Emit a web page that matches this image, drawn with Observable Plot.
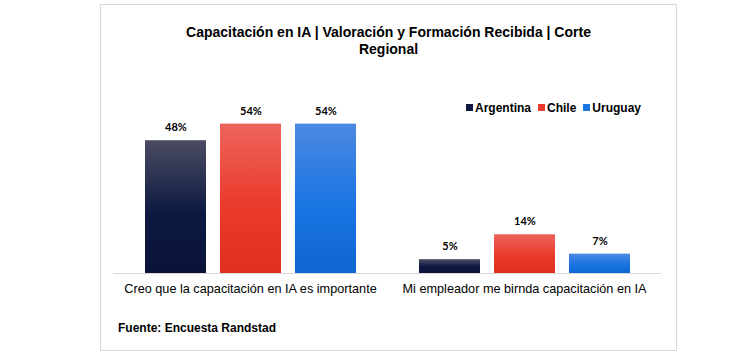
<!DOCTYPE html>
<html>
<head>
<meta charset="utf-8">
<script src="https://cdn.jsdelivr.net/npm/d3@7"></script>
<script src="https://cdn.jsdelivr.net/npm/@observablehq/plot@0.6"></script>
<style>
  body { margin: 0; background: #fff; font-family: "Liberation Sans", Arial, sans-serif; }
  #wrap { position: relative; width: 746px; height: 360px; overflow: hidden; }
  #box { position: absolute; left: 100px; top: 4px; width: 577px; height: 347px; border: 1px solid #d9d9d9; box-sizing: border-box; }
  #title { position: absolute; left: 101px; width: 575px; top: 24px; text-align: center; font-weight: bold; font-size: 14px; line-height: 17px; color: #000; }
  #legend { position: absolute; left: 466px; top: 101px; font-weight: bold; font-size: 12px; color: #000; white-space: nowrap; }
  #legend span.sw { display: inline-block; width: 7px; height: 7px; margin-right: 2px; vertical-align: 1px; }
  #legend span.item { margin-right: 7px; }
  #footer { position: absolute; left: 118px; top: 321px; font-weight: bold; font-size: 12px; color: #000; }
  #chart { position: absolute; left: 0; top: 60px; }
</style>
</head>
<body>
<div id="wrap">
  <div id="box"></div>
  <div id="chart"></div>
  <div id="title">Capacitación en IA | Valoración y Formación Recibida | Corte<br>Regional</div>
  <div id="legend"></div>
  <div id="footer">Fuente: Encuesta Randstad</div>
</div>
<script>
const categories = ["Creo que la capacitación en IA es importante", "Mi empleador me birnda capacitación en IA"];
const series = ["Argentina", "Chile", "Uruguay"];
const argentina = [48, 5];
const chile = [54, 14];
const uruguay = [54, 7];
const valueLabels = [["48%", "5%"], ["54%", "14%"], ["54%", "7%"]];
const colors = {
  Argentina: ["#4b4c63", "#0d1942", "#0a1238"],
  Chile: ["#ed645b", "#ea3a2c", "#df2f20"],
  Uruguay: ["#4c89e2", "#1a74e2", "#0e66d0"]
};

const values = [argentina, chile, uruguay];
const data = [];
series.forEach((s, si) => categories.forEach((c, ci) => {
  data.push({category: c, country: s, value: values[si][ci], label: valueLabels[si][ci]});
}));

const gradId = s => "grad-" + s;

function defsMark() {
  const ns = "http://www.w3.org/2000/svg";
  const defs = document.createElementNS(ns, "defs");
  for (const s of series) {
    const g = document.createElementNS(ns, "linearGradient");
    g.setAttribute("id", gradId(s));
    g.setAttribute("x1", "0"); g.setAttribute("y1", "0");
    g.setAttribute("x2", "0"); g.setAttribute("y2", "1");
    const stops = [[0, colors[s][0]], [0.55, colors[s][1]], [1, colors[s][2]]];
    for (const [o, c] of stops) {
      const st = document.createElementNS(ns, "stop");
      st.setAttribute("offset", o);
      st.setAttribute("stop-color", c);
      g.appendChild(st);
    }
    defs.appendChild(g);
  }
  return defs;
}

const chart = Plot.plot({
  width: 746,
  height: 250,
  marginLeft: 112,
  marginRight: 85,
  marginTop: 47,
  marginBottom: 37,
  style: {background: "transparent", fontFamily: "'Liberation Sans', Arial, sans-serif"},
  fx: {domain: categories, padding: 0, label: null},
  x: {domain: series, paddingInner: 0.187, paddingOuter: 0.42, axis: null},
  y: {domain: [0, 60], axis: null},
  marks: [
    defsMark,
    Plot.barY(data, {fx: "category", x: "country", y: "value", fill: d => `url(#${gradId(d.country)})`}),
    Plot.text(data, {fx: "category", x: "country", y: "value", text: "label", dy: -13,
      fontWeight: "bold", fontSize: 11, fontFamily: "Lato, sans-serif", fill: "#000"}),
    Plot.ruleY([0], {stroke: "#d9d9d9", strokeWidth: 1}),
    Plot.axisFx({anchor: "bottom", tickSize: 0, tickPadding: 10, fontSize: 12.7, label: null, color: "#000"})
  ]
});
document.getElementById("chart").appendChild(chart);

const legend = document.getElementById("legend");
for (const s of series) {
  const item = document.createElement("span");
  item.className = "item";
  const sw = document.createElement("span");
  sw.className = "sw";
  sw.style.background = colors[s][1];
  item.appendChild(sw);
  item.appendChild(document.createTextNode(s));
  legend.appendChild(item);
}
</script>
</body>
</html>
